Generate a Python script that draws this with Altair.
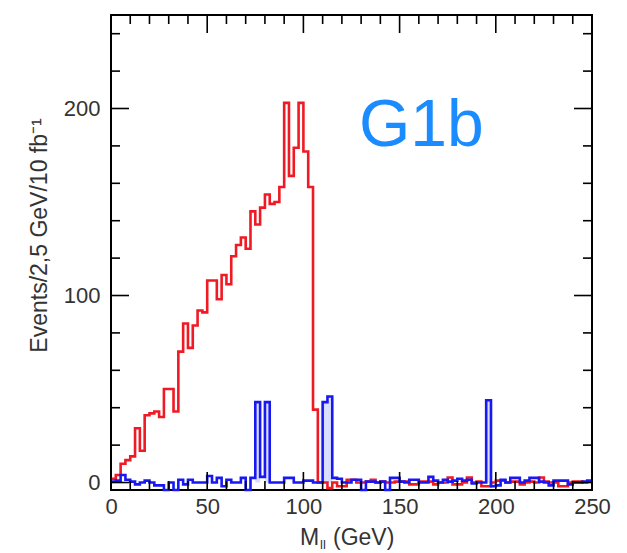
import altair as alt
import pandas as pd

# Histogram binning: 2.5 GeV bins from 0 to 250 GeV
BIN_WIDTH = 2.5
N_BINS = 100

# Signal (red) events per bin
red_counts = [
    2, 4, 10, 12, 14, 29, 17, 36, 37, 38,
    35, 50, 50, 38, 70, 85, 72, 84, 92, 91,
    108, 108, 98, 111, 106, 121, 127, 131, 125, 145,
    138, 147, 154, 149, 150, 158, 203, 164, 179, 203,
    177, 158, 39, 0, 0, -3, 0, -2, -2, 1.5,
    1.5, 0, 0, 0.5, 1.5, 0, 0.5, 0, 0, 0.5,
    0.5, 0.5, -1, -1, 0.5, 0.5, 0.5, -1, 0, 0,
    2.7, -1, -1, 0, 2.7, 0, 0.5, -2, -2, 0,
    1, 1, 0, 0.5, 0.5, -1, 0, 0.5, 0, 2.7,
    0.5, 0, 0, -2, -2, 0, 0.5, 0.5, 0, 0.5,
]

# Background (blue) events per bin
blue_counts = [
    0.5, 1, 4, 1.5, 0.5, -1, 0, 1, 0, -1.5,
    -1.5, -4, 0, -4, 1.5, -1, 1.5, 0, 0, 0,
    3.5, 0, 2.5, -2, 1.5, 0, 0, 2.5, -4, 2.5,
    43, 3, 43, 0, 0, 0, 2.5, 2.5, 0, 0,
    1, 1, 0, 0, 43, 46, 2.5, 2, 0, 0,
    1.5, 1.5, -4, 0.5, 0.5, 0, 0.5, -4, 2.5, 2.5,
    0.5, 0, 1.5, 1.5, 0, 0, 3, 1, 0, 1.5,
    0.5, 1, 2, 1, 1.5, -0.5, 0, 0, 44, -2,
    -1.5, 1.5, 0, 2.5, 2.5, 0, 1, 2.5, 2.5, 0.5,
    0, -1.5, 1, 1, 1, -1, 0, 0, 0.5, 1,
]

x_major = [0, 50, 100, 150, 200, 250]
x_minor = [v for v in range(0, 251, 10) if v % 50 != 0]
y_major = [0, 100, 200]
y_minor = [20, 40, 60, 80, 120, 140, 160, 180, 220, 240]

W, H = 481, 475
FONT = "Liberation Sans"
TEXT = "#333333"

edges = [i * BIN_WIDTH for i in range(N_BINS + 1)]


def step_frame(counts):
    return pd.DataFrame({"m": edges, "n": list(counts) + [counts[-1]]})


red_df = step_frame(red_counts)
blue_df = step_frame(blue_counts)
spike_df = pd.DataFrame(
    [{"m": edges[i], "m2": edges[i + 1], "n": c, "n0": 0}
     for i, c in enumerate(blue_counts) if c > 20]
)

xs = alt.Scale(domain=[0, 250], nice=False, zero=False)
ys = alt.Scale(domain=[-4, 250], nice=False, zero=False)

x_axis = alt.Axis(values=x_major, ticks=False, domain=False, grid=False,
                  labelFontSize=22, labelPadding=6, labelFont=FONT,
                  labelColor=TEXT, title=None, labelFlush=False)
y_axis = alt.Axis(values=y_major, ticks=False, domain=False, grid=False,
                  labelFontSize=22, labelPadding=11, labelFont=FONT,
                  labelColor=TEXT, title="Events/2,5 GeV/10 fb⁻¹",
                  titleFont=FONT, titleFontSize=23, titleFontWeight="normal",
                  titleColor=TEXT, titleX=-72, titleY=220,
                  titleBaseline="middle", titleAngle=-90)

spikes = alt.Chart(spike_df).mark_rect(
    fill="#b4bcff", fillOpacity=0.5, stroke=None
).encode(
    x=alt.X("m:Q", scale=xs, axis=x_axis),
    x2="m2:Q",
    y=alt.Y("n:Q", scale=ys, axis=y_axis),
    y2="n0:Q",
)

red_line = alt.Chart(red_df).mark_line(
    interpolate="step-after", color="#f01a24", strokeWidth=2.6
).encode(x=alt.X("m:Q", scale=xs), y=alt.Y("n:Q", scale=ys))

blue_line = alt.Chart(blue_df).mark_line(
    interpolate="step-after", color="#1818f2", strokeWidth=2.6
).encode(x=alt.X("m:Q", scale=xs), y=alt.Y("n:Q", scale=ys))


def xticks(vals, length):
    d = pd.DataFrame({"m": vals})
    bottom = alt.Chart(d).mark_rule(color="black", strokeWidth=1.6).encode(
        x=alt.X("m:Q", scale=xs), y=alt.value(H), y2=alt.value(H - length))
    top = alt.Chart(d).mark_rule(color="black", strokeWidth=1.6).encode(
        x=alt.X("m:Q", scale=xs), y=alt.value(0), y2=alt.value(length))
    return [bottom, top]


def yticks(vals, length):
    d = pd.DataFrame({"n": vals})
    left = alt.Chart(d).mark_rule(color="black", strokeWidth=1.6).encode(
        y=alt.Y("n:Q", scale=ys), x=alt.value(0), x2=alt.value(length))
    right = alt.Chart(d).mark_rule(color="black", strokeWidth=1.6).encode(
        y=alt.Y("n:Q", scale=ys), x=alt.value(W), x2=alt.value(W - length))
    return [left, right]


tick_layers = (xticks(x_major, 18) + xticks(x_minor, 9)
               + yticks(y_major, 18) + yticks(y_minor, 9))

g1b = alt.Chart(pd.DataFrame({"t": ["G1b"]})).mark_text(
    font=FONT, fontSize=66, color="#1a8cff", align="left", baseline="alphabetic"
).encode(text="t:N", x=alt.value(248), y=alt.value(131))

xtitle_m = alt.Chart(pd.DataFrame({"t": ["M"]})).mark_text(
    font=FONT, fontSize=23, color=TEXT, align="left", baseline="alphabetic"
).encode(text="t:N", x=alt.value(189), y=alt.value(530))
xtitle_sub = alt.Chart(pd.DataFrame({"t": ["ll"]})).mark_text(
    font=FONT, fontSize=13, color=TEXT, align="left", baseline="alphabetic"
).encode(text="t:N", x=alt.value(209), y=alt.value(534))
xtitle_rest = alt.Chart(pd.DataFrame({"t": ["(GeV)"]})).mark_text(
    font=FONT, fontSize=23, color=TEXT, align="left", baseline="alphabetic"
).encode(text="t:N", x=alt.value(222), y=alt.value(530))

chart = alt.layer(
    spikes, red_line, blue_line, *tick_layers, g1b,
    xtitle_m, xtitle_sub, xtitle_rest,
).properties(
    width=W, height=H,
    autosize=alt.AutoSizeParams(type="none"),
    padding={"left": 111, "top": 15, "right": 35, "bottom": 63},
    background="white",
).configure_view(stroke="black", strokeWidth=2)

chart.save("out.html", embed_options={"renderer": "svg", "actions": False})
